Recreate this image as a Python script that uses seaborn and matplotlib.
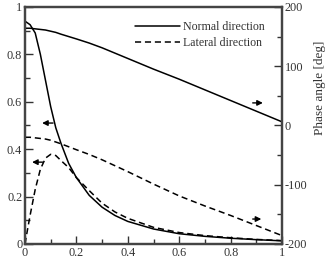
import matplotlib
matplotlib.use("Agg")
import matplotlib.pyplot as plt
import numpy as np
import pandas as pd
import seaborn as sns

# frequency ratio (shared x grid)
freq = [0, 0.02, 0.04, 0.06, 0.08, 0.1, 0.12, 0.14, 0.17, 0.2,
        0.25, 0.3, 0.35, 0.4, 0.5, 0.6, 0.7, 0.8, 0.9, 1.0]

# amplitude (left axis)
amp_normal = [0.94, 0.925, 0.89, 0.80, 0.69, 0.58, 0.49, 0.425, 0.34, 0.28,
              0.205, 0.155, 0.12, 0.095, 0.063, 0.043, 0.032, 0.024, 0.018, 0.013]
amp_lateral = [0.0, 0.12, 0.23, 0.315, 0.362, 0.378, 0.373, 0.352, 0.322, 0.28,
               0.225, 0.172, 0.135, 0.108, 0.07, 0.048, 0.035, 0.026, 0.019, 0.014]

# phase angle in deg (right axis)
phase_normal = [164, 164, 163, 162, 161, 159, 157, 154, 150, 146,
                139, 131, 122, 113, 95, 78, 60, 42, 24, 6]
phase_lateral = [-20, -20, -21, -22, -23, -25, -28, -31, -36, -41,
                 -49, -58, -68, -78, -99, -119, -136, -152, -169, -186]

x_ticks = [0, 0.2, 0.4, 0.6, 0.8, 1]
x_labels = ["0", "0.2", "0.4", "0.6", "0.8", "1"]
amp_ticks = [0, 0.2, 0.4, 0.6, 0.8, 1]
amp_labels = ["0", "0.2", "0.4", "0.6", "0.8", "1"]
phase_ticks = [-200, -100, 0, 100, 200]
phase_labels = ["-200", "-100", "0", "100", "200"]

df = pd.DataFrame({
    "f": freq,
    "amp_n": amp_normal,
    "amp_l": amp_lateral,
    "ph_n": phase_normal,
    "ph_l": phase_lateral,
})

sns.set_style("ticks")
plt.rcParams["font.family"] = ["Liberation Serif", "DejaVu Serif"]
plt.rcParams["xtick.direction"] = "in"
plt.rcParams["ytick.direction"] = "in"

TXT = "#333333"
LW = 1.1
DASH = (4, 2.5)

fig = plt.figure(figsize=(3.28, 2.66), dpi=100)
ax = fig.add_axes([0.076, 0.083, 0.784, 0.891])
ax2 = ax.twinx()

sns.lineplot(data=df, x="f", y="amp_n", ax=ax, color="black", lw=LW)
sns.lineplot(data=df, x="f", y="amp_l", ax=ax, color="black", lw=LW)
ax.lines[-1].set_dashes(DASH)
sns.lineplot(data=df, x="f", y="ph_n", ax=ax2, color="black", lw=LW,
             label="Normal direction")
sns.lineplot(data=df, x="f", y="ph_l", ax=ax2, color="black", lw=LW,
             label="Lateral direction")
ax2.lines[-1].set_dashes(DASH)

ax.set_xlim(0, 1)
ax.set_ylim(0, 1)
ax2.set_ylim(-200, 200)
ax.set_xlabel("")
ax.set_ylabel("")
ax2.set_ylabel("Phase angle [deg]", fontsize=9.5, color=TXT)
ax2.yaxis.set_label_coords(1.125, 0.66)

ax.set_xticks(x_ticks)
ax.set_xticklabels(x_labels)
ax.set_xticks(np.arange(0.1, 1.0, 0.2), minor=True)
ax.set_yticks(amp_ticks)
ax.set_yticklabels(amp_labels)
ax.set_yticks(np.arange(0.1, 1.0, 0.2), minor=True)
ax2.set_yticks(phase_ticks)
ax2.set_yticklabels(phase_labels)
ax2.set_yticks([-150, -50, 50, 150], minor=True)

for a in (ax, ax2):
    a.tick_params(which="major", length=6, width=1, labelsize=8.8,
                  colors=TXT, pad=2)
    a.tick_params(which="minor", length=3.5, width=1, colors=TXT)
    for s in a.spines.values():
        s.set_linewidth(1.6)
        s.set_color("#444444")

leg = ax2.legend(loc="upper right", bbox_to_anchor=(0.95, 0.96), frameon=False,
                 fontsize=8.6, handlelength=3.8, handletextpad=0.2,
                 labelspacing=0.3, borderaxespad=0)
for t in leg.get_texts():
    t.set_color(TXT)

arrow = dict(arrowstyle="-|>", color="black", lw=1.0, mutation_scale=8)
ax.annotate("", xy=(0.056, 0.51), xytext=(0.12, 0.51), arrowprops=arrow)
ax.annotate("", xy=(0.017, 0.345), xytext=(0.08, 0.345), arrowprops=arrow)
ax.annotate("", xy=(0.936, 0.595), xytext=(0.875, 0.595), arrowprops=arrow)
ax.annotate("", xy=(0.93, 0.105), xytext=(0.875, 0.105), arrowprops=arrow)

fig.savefig("out.png", dpi=100)
